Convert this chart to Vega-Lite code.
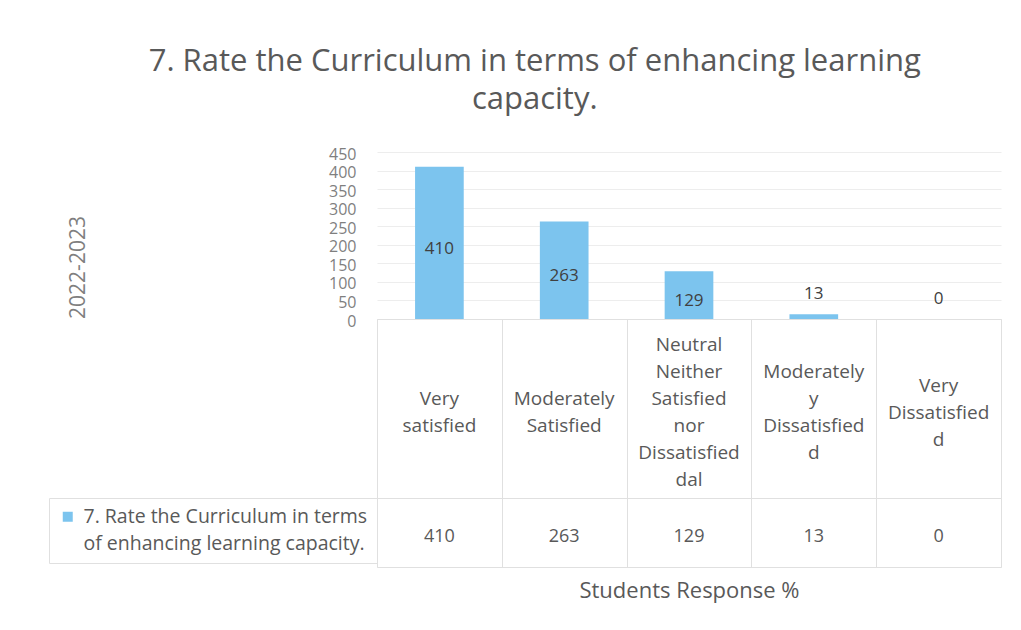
{
  "$schema": "https://vega.github.io/schema/vega-lite/v6.json",
  "background": "white",
  "padding": {"left": 48, "top": 46, "right": 15, "bottom": 10},
  "title": {
    "text": ["7. Rate the Curriculum in terms of enhancing learning", "capacity."],
    "font": "Open Sans",
    "fontSize": 31,
    "fontWeight": "normal",
    "color": "#595959",
    "lineHeight": 38,
    "anchor": "middle",
    "dx": 10,
    "offset": 30
  },
  "config": {
    "font": "Open Sans",
    "view": {"stroke": null},
    "style": {"guide-label": {"lineHeight": 27}}
  },
  "datasets": {
    "responses": [
      {"category": "Very satisfied", "series": "7. Rate the Curriculum in terms of enhancing learning capacity.", "value": 410},
      {"category": "Moderately Satisfied", "series": "7. Rate the Curriculum in terms of enhancing learning capacity.", "value": 263},
      {"category": "Neutral Neither Satisfied nor Dissatisfied dal", "series": "7. Rate the Curriculum in terms of enhancing learning capacity.", "value": 129},
      {"category": "Moderately y Dissatisfied d", "series": "7. Rate the Curriculum in terms of enhancing learning capacity.", "value": 13},
      {"category": "Very Dissatisfied d", "series": "7. Rate the Curriculum in terms of enhancing learning capacity.", "value": 0}
    ]
  },
  "spacing": 0,
  "bounds": "flush",
  "resolve": {"scale": {"color": "independent"}, "legend": {"color": "independent"}},
  "vconcat": [
    {
      "width": 624,
      "height": 167,
      "data": {"name": "responses"},
      "encoding": {
        "x": {
          "field": "category",
          "type": "nominal",
          "sort": ["Very satisfied", "Moderately Satisfied", "Neutral Neither Satisfied nor Dissatisfied dal", "Moderately y Dissatisfied d", "Very Dissatisfied d"],
          "scale": {"type": "band", "paddingInner": 0.61, "paddingOuter": 0.305},
          "axis": null
        }
      },
      "layer": [
        {
          "mark": {"type": "bar", "color": "#7cc4ee"},
          "encoding": {
            "y": {
              "field": "value",
              "type": "quantitative",
              "scale": {"domain": [0, 450], "nice": false},
              "title": "2022-2023",
              "axis": {
                "values": [0, 50, 100, 150, 200, 250, 300, 350, 400, 450],
                "domain": false,
                "ticks": false,
                "labelOverlap": false,
                "labelFont": "Open Sans",
                "labelFontSize": 16,
                "labelColor": "#7f7f7f",
                "labelPadding": 21,
                "labelOffset": 2,
                "gridColor": "#ededed",
                "titleFont": "Open Sans",
                "titleFontSize": 21,
                "titleFontWeight": "normal",
                "titleColor": "#7f7f7f",
                "titleAngle": 270,
                "titleX": -299,
                "titleY": 115,
                "titleAlign": "center",
                "titleBaseline": "middle"
              }
            }
          }
        },
        {
          "transform": [
            {"filter": "datum.value >= 50"},
            {"calculate": "datum.value / 2", "as": "mid"}
          ],
          "mark": {"type": "text", "fontSize": 17, "color": "#404040", "dy": 6},
          "encoding": {
            "y": {
              "field": "mid",
              "type": "quantitative",
              "scale": {"domain": [0, 450], "nice": false},
              "title": "2022-2023",
              "axis": {
                "values": [0, 50, 100, 150, 200, 250, 300, 350, 400, 450],
                "domain": false,
                "ticks": false,
                "labelOverlap": false,
                "labelFont": "Open Sans",
                "labelFontSize": 16,
                "labelColor": "#7f7f7f",
                "labelPadding": 21,
                "labelOffset": 2,
                "gridColor": "#ededed",
                "titleFont": "Open Sans",
                "titleFontSize": 21,
                "titleFontWeight": "normal",
                "titleColor": "#7f7f7f",
                "titleAngle": 270,
                "titleX": -299,
                "titleY": 115,
                "titleAlign": "center",
                "titleBaseline": "middle"
              }
            },
            "text": {"field": "value", "type": "quantitative"}
          }
        },
        {
          "transform": [{"filter": "datum.value < 50"}],
          "mark": {"type": "text", "fontSize": 17, "color": "#404040", "dy": -20},
          "encoding": {
            "y": {
              "field": "value",
              "type": "quantitative",
              "scale": {"domain": [0, 450], "nice": false},
              "title": "2022-2023",
              "axis": {
                "values": [0, 50, 100, 150, 200, 250, 300, 350, 400, 450],
                "domain": false,
                "ticks": false,
                "labelOverlap": false,
                "labelFont": "Open Sans",
                "labelFontSize": 16,
                "labelColor": "#7f7f7f",
                "labelPadding": 21,
                "labelOffset": 2,
                "gridColor": "#ededed",
                "titleFont": "Open Sans",
                "titleFontSize": 21,
                "titleFontWeight": "normal",
                "titleColor": "#7f7f7f",
                "titleAngle": 270,
                "titleX": -299,
                "titleY": 115,
                "titleAlign": "center",
                "titleBaseline": "middle"
              }
            },
            "text": {"field": "value", "type": "quantitative"}
          }
        }
      ]
    },
    {
      "width": 624,
      "height": 179,
      "view": {"stroke": "#e0e0e0"},
      "data": {"name": "responses"},
      "transform": [{"calculate": "length(split(datum.category, ' '))", "as": "lines"}],
      "encoding": {
        "x": {
          "field": "category",
          "type": "nominal",
          "sort": ["Very satisfied", "Moderately Satisfied", "Neutral Neither Satisfied nor Dissatisfied dal", "Moderately y Dissatisfied d", "Very Dissatisfied d"],
          "scale": {"type": "band", "paddingInner": 0, "paddingOuter": 0},
          "axis": {
            "labels": false,
            "ticks": false,
            "domain": false,
            "title": null,
            "grid": true,
            "tickBand": "extent",
            "gridColor": "#e0e0e0"
          }
        },
        "text": {"field": "category", "type": "nominal"}
      },
      "layer": [
        {
          "transform": [{"filter": "datum.lines == 2"}],
          "mark": {"type": "text", "lineBreak": " ", "fontSize": 19, "lineHeight": 27, "color": "#595959", "baseline": "middle", "dy": -9.5}
        },
        {
          "transform": [{"filter": "datum.lines == 3"}],
          "mark": {"type": "text", "lineBreak": " ", "fontSize": 19, "lineHeight": 27, "color": "#595959", "baseline": "middle", "dy": -23}
        },
        {
          "transform": [{"filter": "datum.lines == 4"}],
          "mark": {"type": "text", "lineBreak": " ", "fontSize": 19, "lineHeight": 27, "color": "#595959", "baseline": "middle", "dy": -36.5}
        },
        {
          "transform": [{"filter": "datum.lines == 6"}],
          "mark": {"type": "text", "lineBreak": " ", "fontSize": 19, "lineHeight": 27, "color": "#595959", "baseline": "middle", "dy": -63.5}
        }
      ]
    },
    {
      "width": 624,
      "height": 69,
      "view": {"stroke": "#e0e0e0"},
      "data": {"name": "responses"},
      "encoding": {
        "x": {
          "field": "category",
          "type": "nominal",
          "sort": ["Very satisfied", "Moderately Satisfied", "Neutral Neither Satisfied nor Dissatisfied dal", "Moderately y Dissatisfied d", "Very Dissatisfied d"],
          "scale": {"type": "band", "paddingInner": 0, "paddingOuter": 0},
          "axis": {
            "labels": false,
            "ticks": false,
            "domain": false,
            "grid": true,
            "tickBand": "extent",
            "gridColor": "#e0e0e0",
            "title": "Students Response %",
            "titleFont": "Open Sans",
            "titleFontSize": 22,
            "titleFontWeight": "normal",
            "titleColor": "#595959",
            "titlePadding": 13
          }
        }
      },
      "layer": [
        {
          "mark": {"type": "rect", "opacity": 0},
          "encoding": {
            "color": {
              "field": "series",
              "type": "nominal",
              "scale": {"range": ["#7cc4ee"]},
              "legend": {
                "orient": "left",
                "offset": 0,
                "title": null,
                "symbolType": "square",
                "symbolSize": 100,
                "symbolStrokeWidth": 0,
                "labelFont": "Open Sans",
                "labelFontSize": 19.5,
                "labelColor": "#595959",
                "labelLimit": 400,
                "labelOffset": 6,
                "labelExpr": "[substring(datum.label, 0, 31), substring(datum.label, 32)]",
                "padding": 9,
                "strokeColor": "#e0e0e0"
              }
            }
          }
        },
        {
          "mark": {"type": "text", "fontSize": 18, "color": "#595959", "dy": 4},
          "encoding": {
            "text": {"field": "value", "type": "quantitative"}
          }
        }
      ]
    }
  ]
}
